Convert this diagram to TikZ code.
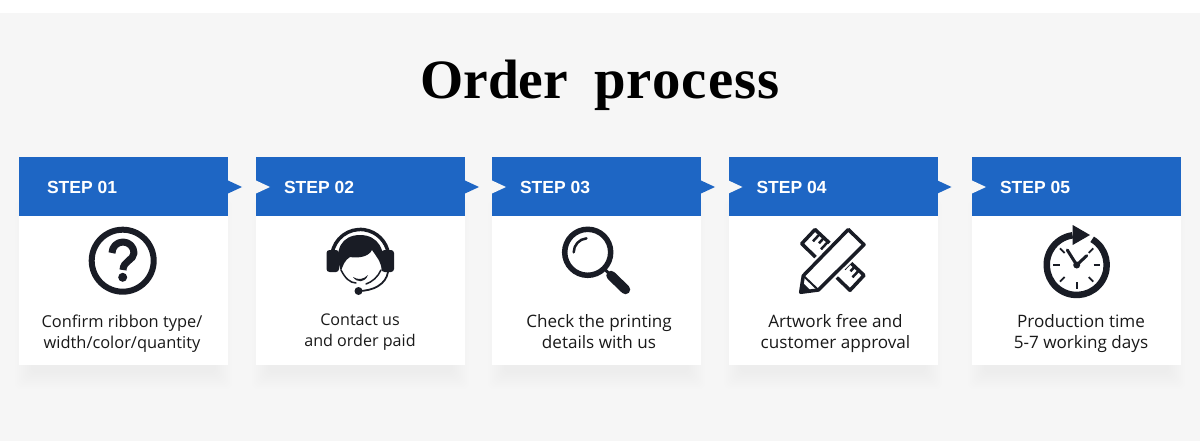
\documentclass[tikz,border=0pt]{standalone}
\usepackage{fontspec}
\setmainfont{Liberation Sans}
\newfontfamily\titlefont{Liberation Serif}
\newfontfamily\cardfont{Open Sans}
\usetikzlibrary{positioning}
\definecolor{pagebg}{HTML}{F6F6F6}
\definecolor{stepblue}{HTML}{1E66C4}
\definecolor{iconink}{HTML}{191C25}
\tikzstyle{every node}=[inner sep=0pt,outer sep=0pt]
\tikzstyle{cardbody}=[fill=white,minimum width=209pt,minimum height=208pt,anchor=north west]
\tikzstyle{cardhead}=[fill=stepblue,minimum width=209pt,minimum height=59pt,anchor=north west]
\tikzstyle{steplabel}=[text=white,yshift=-1pt,font=\fontsize{17.5}{19}\selectfont\bfseries]
\tikzstyle{cardtext}=[text=black!90,align=center,font=\cardfont\fontsize{16.4}{21}\selectfont]
\tikzstyle{cardtextbig}=[cardtext,font=\cardfont\fontsize{17.1}{21}\selectfont]
\tikzstyle{iconline}=[draw=iconink,line cap=round,line join=round]
\begin{document}
\begin{tikzpicture}[x=1pt,y=1pt,yscale=-1]
    \useasboundingbox (0,0) rectangle (1200,441);
    % 绘制背景
    \fill[white] (0,0) rectangle (1200,441);
    \fill[pagebg] (0,13) rectangle (1200,441);

    % 绘制标题
    \node (title) at (600,85) {\titlefont\bfseries\fontsize{55.5}{60}\selectfont Order\hspace{26pt}{\fontsize{56.8}{60}\selectfont\addfontfeature{LetterSpace=2}process}};

    % 绘制阴影
    \foreach \cardx in {19,256,492,728.5,972}
        \foreach \d in {0,...,8}
            \fill[black!30,opacity=0.01,rounded corners=6pt] (\cardx+12-2*\d,200) rectangle (\cardx+197+2*\d,373+2*\d);

    % 绘制卡片
    \node[cardbody] (body1) at (19,157) {};
    \node[cardbody] (body2) at (256,157) {};
    \node[cardbody] (body3) at (492,157) {};
    \node[cardbody] (body4) at (728.5,157) {};
    \node[cardbody] (body5) at (972,157) {};

    % 绘制标题栏
    \node[cardhead] (head1) at (19,157) {};
    \node[cardhead] (head2) at (256,157) {};
    \node[cardhead] (head3) at (492,157) {};
    \node[cardhead] (head4) at (728.5,157) {};
    \node[cardhead] (head5) at (972,157) {};

    % 标记步骤
    \node[steplabel,right=28pt of head1.west] (step1) {STEP 01};
    \node[steplabel,right=28pt of head2.west] (step2) {STEP 02};
    \node[steplabel,right=28pt of head3.west] (step3) {STEP 03};
    \node[steplabel,right=28pt of head4.west] (step4) {STEP 04};
    \node[steplabel,right=28pt of head5.west] (step5) {STEP 05};

    % 绘制箭头
    \fill[stepblue] (228,180.5) -- (242,187) -- (228,193.5) -- cycle;
    \fill[stepblue] (465,180.5) -- (479,187) -- (465,193.5) -- cycle;
    \fill[stepblue] (701,180.5) -- (715,187) -- (701,193.5) -- cycle;
    \fill[stepblue] (937.5,180.5) -- (951.5,187) -- (937.5,193.5) -- cycle;
    \fill[pagebg] (256,180.5) -- (270,187) -- (256,193.5) -- cycle;
    \fill[pagebg] (492,180.5) -- (506,187) -- (492,193.5) -- cycle;
    \fill[pagebg] (728.5,180.5) -- (742.5,187) -- (728.5,193.5) -- cycle;
    \fill[pagebg] (972,180.5) -- (986,187) -- (972,193.5) -- cycle;

    % 卡片文字
    \node[cardtext] (text1) at (122,333.5) {Confirm ribbon type/\\width/color/quantity};
    \node[cardtext,font=\cardfont\fontsize{16.1}{21}\selectfont] (text2) at (360,332) {Contact us\\and order paid};
    \node[cardtextbig] (text3) at (599,331.5) {Check the printing\\details with us};
    \node[cardtextbig] (text4) at (835.5,334) {Artwork free and\\customer approval};
    \node[cardtextbig] (text5) at (1081,334) {Production time\\5-7 working days};

    % 问号图标
    \draw[iconline,line width=6pt] (122.7,260.7) circle (31);
    \draw[iconline,line width=7pt,line cap=butt] (112,253) arc (180:360:11) .. controls (134,260) and (123,261) .. (123,270);
    \fill[iconink] (122.7,277.3) circle (4.5);

    % 耳机图标
    \draw[iconline,line width=3.5pt] (332,254) arc (188:352:28.5);
    \fill[iconink,rounded corners=3pt] (326.5,250) rectangle (339,272);
    \fill[iconink,rounded corners=3pt] (381.5,250) rectangle (394,272);
    \fill[iconink] (341,271) .. controls (333,250) and (342,235) .. (360,235)
        .. controls (378,235) and (387,250) .. (382,271)
        .. controls (381,261) and (376,256) .. (372,250)
        .. controls (368,258) and (356,258) .. (350,257)
        .. controls (345,260) and (343,265) .. (341,271) -- cycle;
    \draw[iconline,line width=1.5pt] (341,270) .. controls (345,278) and (350,283) .. (356,283);
    \draw[iconline,line width=1.5pt] (381,270) .. controls (378,277) and (372,282) .. (366,284);
    \fill[iconink] (353,277) .. controls (358,280) and (363,280) .. (368,275)
        .. controls (365,283) and (357,283) .. (353,277) -- cycle;
    \draw[iconline,line width=1.8pt] (388,272) .. controls (386,284) and (374,291) .. (358,291);
    \fill[iconink] (358.5,291) circle (4);

    % 放大镜图标
    \draw[iconline,line width=5.5pt] (587.7,252.3) circle (23);
    \draw[iconline,line width=2.5pt] (573.7,252.3) arc (180:265:14);
    \draw[iconline,line width=3pt] (604,268.5) -- (610,274.5);
    \draw[iconline,line width=9.5pt] (611,275.5) -- (625.5,289.5);

    % 尺子和铅笔图标
    \draw[iconline,line width=3.5pt,fill=white] (815,229.5) -- (801.7,243.7) -- (850,290.3) -- (864,275.3) -- cycle;
    \draw[iconline,line width=2.5pt,line cap=butt] (819.5,234.3) -- (813,241.3);
    \draw[iconline,line width=2.5pt,line cap=butt] (823.5,238.3) -- (819,243.3);
    \draw[iconline,line width=2.5pt,line cap=butt] (827.5,242.3) -- (821,249.3);
    \draw[iconline,line width=2.5pt,line cap=butt] (851,262.3) -- (844.5,269.3);
    \draw[iconline,line width=2.5pt,line cap=butt] (855,266.3) -- (850.5,271.3);
    \draw[iconline,line width=2.5pt,line cap=butt] (859,270.3) -- (852.5,277.3);
    \draw[draw=white,fill=white,line width=8pt,line join=round] (848.3,229.5) -- (864,244.7) -- (818.3,290) -- (800.7,292.3) -- (803.3,275.7) -- cycle;
    \draw[iconline,line width=3.5pt,fill=white] (848.3,229.5) -- (864,244.7) -- (818.3,290) -- (800.7,292.3) -- (803.3,275.7) -- cycle;
    \draw[iconline,line width=2pt] (803.3,275.7) -- (818.3,290);
    \fill[iconink] (800.7,292.3) -- (802,282) -- (811,291) -- cycle;

    % 时钟图标
    \draw[iconline,line width=6.5pt,line cap=butt] (1076.7,265) ++(-59:30) arc (-59:262:30);
    \fill[iconink] (1072.7,225) -- (1090,235) -- (1072.7,245) -- cycle;
    \draw[iconline,line width=3pt] (1067.3,250) -- (1076.7,265) -- (1086.7,255.7);
    \fill[iconink] (1076.7,265) circle (3.5);
    \draw[iconline,line width=1.8pt,line cap=butt] (1076.7,265) ++(0:17) -- ++(0:6.5);
    \draw[iconline,line width=1.8pt,line cap=butt] (1076.7,265) ++(45:17) -- ++(45:6.5);
    \draw[iconline,line width=1.8pt,line cap=butt] (1076.7,265) ++(90:17) -- ++(90:6.5);
    \draw[iconline,line width=1.8pt,line cap=butt] (1076.7,265) ++(135:17) -- ++(135:6.5);
    \draw[iconline,line width=1.8pt,line cap=butt] (1076.7,265) ++(180:17) -- ++(180:6.5);
    \draw[iconline,line width=1.8pt,line cap=butt] (1076.7,265) ++(225:17) -- ++(225:6.5);
    \draw[iconline,line width=1.8pt,line cap=butt] (1076.7,265) ++(315:17) -- ++(315:6.5);
\end{tikzpicture}
\end{document}
